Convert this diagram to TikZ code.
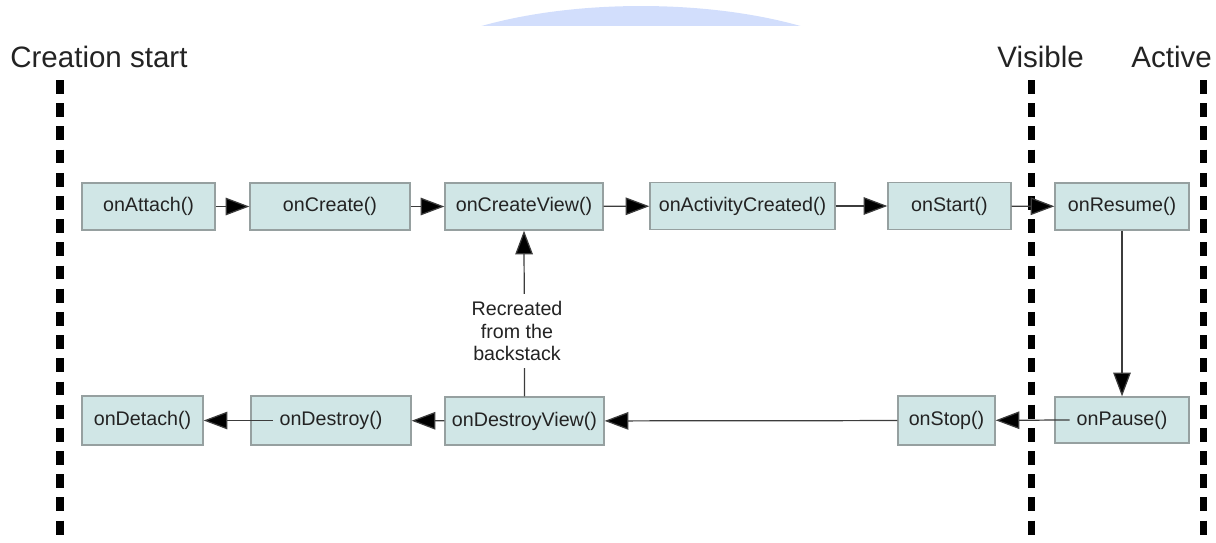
\documentclass[tikz,border=0pt]{standalone}
\usepackage{fontspec}
\setmainfont{Liberation Sans}
\usetikzlibrary{arrows.meta}
\definecolor{boxfill}{RGB}{208,230,230}
\definecolor{boxline}{RGB}{150,160,160}
\definecolor{domeblue}{RGB}{210,222,252}
\definecolor{txtgray}{RGB}{35,35,35}
\tikzset{
  box/.style={draw=boxline,fill=boxfill,line width=.8pt,minimum height=.94cm,inner sep=0pt,text=txtgray},
  arr/.style={draw={rgb,255:red,60;green,60;blue,60},line width=.7pt,-{Triangle[length=13.5pt,width=10pt,fill=black]}},
  stage/.style={anchor=base west,inner sep=0pt,font=\fontsize{16.8}{20}\selectfont,text=txtgray},
  lifeline/.style={line width=4pt,dash pattern=on 7.9pt off 5.3pt}
}
\begin{document}
\begin{tikzpicture}[x=.02cm,y=-.02cm,font=\fontsize{11.2}{13}\selectfont]
	\useasboundingbox (0,0) rectangle (1216,542);
	% 顶部淡蓝色
	\begin{scope}
		\clip (400,0) rectangle (900,25);
		\fill[domeblue] (641,106) ellipse[x radius=5.32cm,y radius=2cm];
	\end{scope}
	% 阶段标题与虚线
	\node[stage] (creation) at (10,67) {Creation start};
	\node[stage] (visible) at (997,67) {Visible};
	\node[stage] (active) at (1131,67) {Active};
	\foreach \x in {60,1031,1203}
		\draw[lifeline] (\x,80)--(\x,542);
	% 第一行
	\node[box,minimum width=2.66cm] (attach) at (148.5,206.5) {onAttach()};
	\node[box,minimum width=3.2cm] (create) at (330,206.5) {onCreate()};
	\node[box,minimum width=3.16cm] (createview) at (524,206.5) {onCreateView()};
	\node[box,minimum width=3.7cm] (actcreated) at (742.5,206) {onActivityCreated()};
	\node[box,minimum width=2.46cm] (start) at (949.5,206) {onStart()};
	\node[box,minimum width=2.68cm] (resume) at (1122,206.5) {onResume()};
	% 第二行
	\node[box,minimum width=2.42cm,minimum height=.98cm] (detach) at (142.5,420.5) {onDetach()};
	\node[box,minimum width=3.2cm,minimum height=.98cm] (destroy) at (331,420.5) {onDestroy()};
	\node[box,minimum width=3.18cm,minimum height=.96cm] (destroyview) at (524.5,421) {onDestroyView()};
	\node[box,minimum width=1.94cm,minimum height=.98cm] (stop) at (946.5,420.5) {onStop()};
	\node[box,minimum width=2.68cm,minimum height=.92cm] (pause) at (1122,420) {onPause()};
	% 箭头
	\draw[arr] (attach)--(create);
	\draw[arr] (create)--(createview);
	\draw[arr] (createview)--(actcreated);
	\draw[arr] (actcreated)--(start);
	\draw[arr] (start)--(resume);
	\draw[arr] (resume)--(pause);
	\draw[arr] ([xshift=-4pt]pause.text |- pause.west)--(stop);
	\draw[arr] (stop)--(destroyview);
	\draw[arr] (destroyview)--(destroy);
	\draw[arr] ([xshift=-4pt]destroy.text |- destroy.west)--(detach);
	\draw[arr] (destroyview.north)--(createview.south);
	\node[fill=white,align=center,inner sep=4pt,text=txtgray] (recreated) at (517,331) {Recreated\\from the\\backstack};
\end{tikzpicture}
\end{document}
